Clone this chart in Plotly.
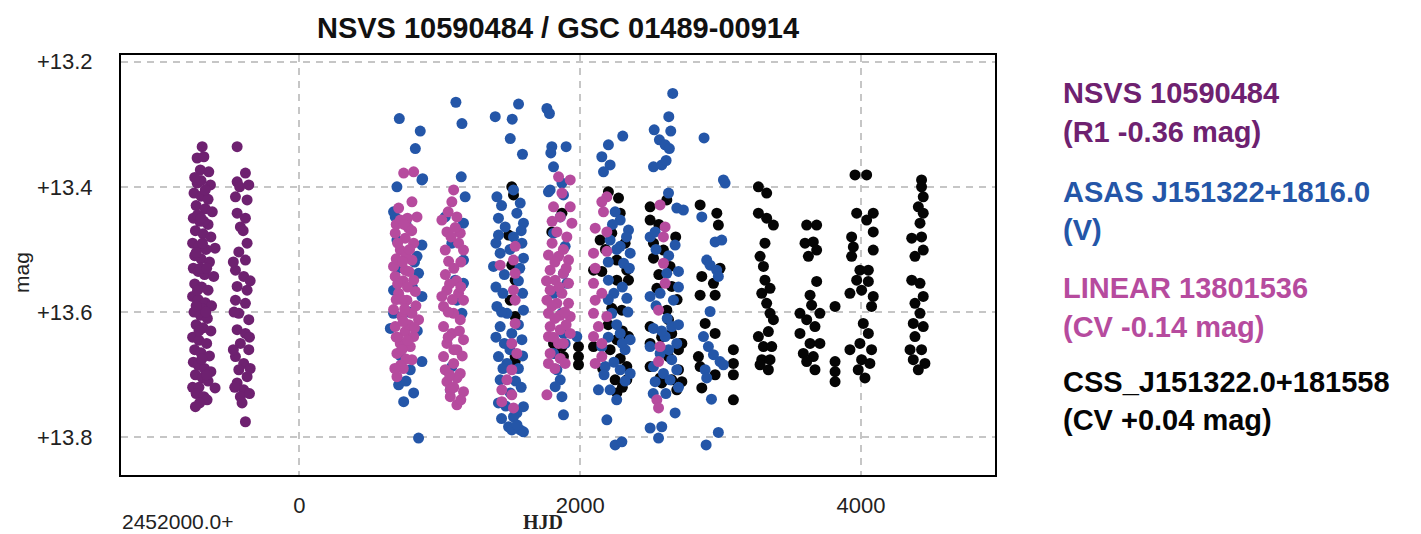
import plotly.graph_objects as go

TITLE = "NSVS 10590484 / GSC 01489-00914"
X_TICKS = [0, 2000, 4000]
X_TICK_TEXT = ["0", "2000", "4000"]
Y_TICKS = [13.2, 13.4, 13.6, 13.8]
Y_TICK_TEXT = ["+13.2", "+13.4", "+13.6", "+13.8"]
X_OFFSET_LABEL = "2452000.0+"

SERIES_NAMES = ["NSVS 10590484", "ASAS J151322+1816.0", "LINEAR 13801536", "CSS_J151322.0+181558"]
SERIES_NOTES = ["(R1 -0.36 mag)", "(V)", "(CV -0.14 mag)", "(CV +0.04 mag)"]
SERIES_COLORS = ["#6e2170", "#2456a8", "#b64b9e", "#050505"]

# (HJD - 2452000, mag)
NSVS = [
    (-692, 13.336), (-728, 13.354), (-680, 13.352), (-705, 13.373), (-645, 13.376), (-728, 13.394), (-633, 13.397),
    (-750, 13.41), (-700, 13.415), (-650, 13.42), (-735, 13.43), (-670, 13.435), (-620, 13.44), (-755, 13.45),
    (-710, 13.455), (-650, 13.46), (-740, 13.47), (-685, 13.475), (-630, 13.48), (-760, 13.49), (-715, 13.495),
    (-600, 13.498), (-665, 13.50), (-745, 13.51), (-700, 13.515), (-640, 13.52), (-755, 13.53), (-720, 13.535),
    (-675, 13.54), (-610, 13.543), (-745, 13.555), (-695, 13.56), (-650, 13.565), (-760, 13.575), (-720, 13.58),
    (-670, 13.585), (-625, 13.59), (-750, 13.60), (-705, 13.605), (-655, 13.61), (-735, 13.62), (-685, 13.625),
    (-630, 13.63), (-760, 13.64), (-715, 13.645), (-660, 13.65), (-745, 13.66), (-700, 13.665), (-640, 13.67),
    (-755, 13.68), (-720, 13.685), (-675, 13.69), (-630, 13.695), (-740, 13.70), (-690, 13.705), (-650, 13.71),
    (-760, 13.72), (-715, 13.72), (-600, 13.721), (-735, 13.73), (-680, 13.735), (-657, 13.740), (-740, 13.751),
    (-710, 13.745), (-725, 13.445), (-690, 13.49), (-725, 13.565), (-690, 13.595), (-715, 13.63), (-695, 13.675),
    (-705, 13.53), (-735, 13.59), (-680, 13.455), (-735, 13.505), (-700, 13.39), (-670, 13.405), (-745, 13.385),
    (-660, 13.53), (-665, 13.60), (-660, 13.70), (-700, 13.45),
    (-443, 13.336), (-384, 13.378), (-443, 13.392), (-360, 13.397), (-455, 13.416), (-372, 13.421), (-443, 13.442),
    (-384, 13.450), (-420, 13.464), (-372, 13.490), (-431, 13.504), (-384, 13.517), (-455, 13.533), (-396, 13.543),
    (-443, 13.559), (-372, 13.565), (-455, 13.581), (-384, 13.586), (-431, 13.602), (-360, 13.612), (-443, 13.628),
    (-384, 13.634), (-420, 13.650), (-360, 13.660), (-455, 13.671), (-396, 13.682), (-431, 13.692), (-372, 13.703),
    (-443, 13.713), (-396, 13.724), (-420, 13.735), (-408, 13.745), (-384, 13.775), (-470, 13.52), (-350, 13.55),
    (-465, 13.60), (-355, 13.64), (-470, 13.66), (-350, 13.69), (-460, 13.72), (-355, 13.73), (-400, 13.47),
    (-425, 13.40),
]

ASAS = [
    (712, 13.291), (861, 13.311), (826, 13.339), (1115, 13.265), (1158, 13.299), (1153, 13.384), (1395, 13.288),
    (1516, 13.292), (1561, 13.268), (1502, 13.323), (1589, 13.348), (1763, 13.275), (1781, 13.283), (1798, 13.336),
    (1791, 13.346), (1810, 13.368), (1900, 13.336), (1786, 13.405), (1870, 13.394), (2201, 13.333), (2154, 13.352),
    (2213, 13.365), (2166, 13.376), (2303, 13.319), (2527, 13.309), (2564, 13.325), (2605, 13.333), (2635, 13.339),
    (2659, 13.251), (2631, 13.288), (2645, 13.311), (2522, 13.368), (2581, 13.365), (2612, 13.358), (2629, 13.410),
    (2882, 13.322), (3020, 13.389), (3032, 13.394), (2866, 13.448), (2961, 13.488), (3008, 13.485), (2901, 13.517),
    (2925, 13.525), (2972, 13.533), (2984, 13.543), (2925, 13.599), (2878, 13.639), (2913, 13.655), (2949, 13.668),
    (2996, 13.679), (3020, 13.684), (2890, 13.692), (2901, 13.705), (2935, 13.739), (2984, 13.792), (2897, 13.812),
    (878, 13.387), (695, 13.400), (683, 13.448), (695, 13.485), (873, 13.493), (671, 13.565), (671, 13.602),
    (873, 13.575), (873, 13.679), (790, 13.692), (707, 13.716), (814, 13.729), (743, 13.743), (849, 13.801),
    (838, 13.511), (849, 13.538), (648, 13.626), (671, 13.440), (873, 13.389), (760, 13.46), (820, 13.52),
    (700, 13.53), (780, 13.60), (840, 13.63), (720, 13.67), (760, 13.71), (805, 13.56),
    (1181, 13.416), (1039, 13.448), (1169, 13.458), (1086, 13.490), (1169, 13.517), (1110, 13.549), (1169, 13.554),
    (1122, 13.581), (1158, 13.602), (1086, 13.687), (1075, 13.724),
    (1407, 13.416), (1525, 13.405), (1573, 13.426), (1418, 13.450), (1549, 13.442), (1466, 13.464), (1596, 13.458),
    (1418, 13.477), (1525, 13.480), (1585, 13.490), (1430, 13.506), (1596, 13.514), (1383, 13.527), (1407, 13.591),
    (1478, 13.602), (1596, 13.597), (1430, 13.623), (1513, 13.634), (1585, 13.644), (1418, 13.671), (1478, 13.682),
    (1430, 13.708), (1502, 13.729), (1418, 13.745), (1549, 13.761), (1490, 13.783), (1573, 13.788), (1525, 13.767),
    (1596, 13.751), (1513, 13.788), (1596, 13.791), (1460, 13.54), (1560, 13.55), (1450, 13.57), (1560, 13.69),
    (1460, 13.65), (1540, 13.71), (1440, 13.43), (1580, 13.47), (1400, 13.49), (1500, 13.50), (1570, 13.53),
    (1400, 13.56), (1590, 13.57), (1440, 13.60), (1560, 13.62), (1400, 13.64), (1500, 13.66), (1590, 13.67),
    (1450, 13.69), (1580, 13.72), (1470, 13.75), (1440, 13.77), (1550, 13.78),
    (1774, 13.408), (1881, 13.413), (1858, 13.448), (1810, 13.474), (1893, 13.495), (1881, 13.538), (1905, 13.554),
    (1810, 13.570), (1870, 13.602), (1881, 13.634), (1893, 13.650), (1810, 13.666), (1834, 13.692), (1858, 13.708),
    (1822, 13.719), (1870, 13.735), (1881, 13.764), (1976, 13.639),
    (2249, 13.440), (2285, 13.453), (2344, 13.469), (2213, 13.485), (2285, 13.495), (2356, 13.506), (2309, 13.522),
    (2201, 13.549), (2332, 13.578), (2225, 13.602), (2285, 13.634), (2356, 13.644), (2154, 13.655), (2320, 13.660),
    (2178, 13.687), (2285, 13.692), (2356, 13.698), (2130, 13.724), (2213, 13.724), (2190, 13.772), (2249, 13.812),
    (2297, 13.807), (2230, 13.46), (2330, 13.48), (2260, 13.50), (2200, 13.52), (2350, 13.53), (2240, 13.57),
    (2300, 13.56), (2200, 13.58), (2340, 13.60), (2260, 13.62), (2200, 13.64), (2300, 13.65), (2240, 13.68),
    (2170, 13.70), (2320, 13.71), (2260, 13.74),
    (2688, 13.434), (2735, 13.437), (2676, 13.493), (2498, 13.480), (2534, 13.472), (2700, 13.535), (2617, 13.538),
    (2498, 13.575), (2569, 13.570), (2664, 13.581), (2652, 13.623), (2522, 13.626), (2605, 13.639), (2688, 13.650),
    (2498, 13.655), (2569, 13.666), (2652, 13.676), (2688, 13.692), (2522, 13.687), (2593, 13.698), (2640, 13.708),
    (2534, 13.711), (2676, 13.761), (2498, 13.785), (2581, 13.783), (2558, 13.801), (2540, 13.50), (2630, 13.51),
    (2700, 13.56), (2540, 13.59), (2620, 13.61), (2700, 13.62), (2580, 13.63), (2630, 13.66), (2700, 13.72),
    (2520, 13.73), (2610, 13.73),
]

LINEAR = [
    (743, 13.378), (814, 13.376), (802, 13.424), (707, 13.434), (719, 13.453), (778, 13.466), (838, 13.448),
    (683, 13.474), (754, 13.482), (814, 13.490), (719, 13.501), (671, 13.527), (754, 13.533), (802, 13.517),
    (814, 13.549), (683, 13.543), (707, 13.570), (766, 13.581), (826, 13.567), (671, 13.596), (731, 13.607),
    (802, 13.602), (849, 13.612), (683, 13.623), (754, 13.631), (814, 13.639), (719, 13.650), (790, 13.655),
    (695, 13.666), (802, 13.676), (695, 13.703), (740, 13.55), (780, 13.62), (730, 13.58), (760, 13.51),
    (700, 13.64), (770, 13.45), (740, 13.69), (830, 13.59), (690, 13.46), (745, 13.46), (800, 13.47),
    (700, 13.49), (785, 13.50), (690, 13.515), (735, 13.52), (780, 13.535), (700, 13.555), (770, 13.56),
    (690, 13.58), (750, 13.595), (820, 13.625), (740, 13.615), (690, 13.64), (770, 13.645), (730, 13.66),
    (760, 13.675), (720, 13.685), (680, 13.69),
    (1099, 13.405), (1086, 13.424), (1015, 13.453), (1122, 13.448), (1146, 13.474), (1051, 13.472), (1134, 13.490),
    (1169, 13.501), (1063, 13.519), (1039, 13.501), (1051, 13.565), (1134, 13.570), (1027, 13.591), (1169, 13.581),
    (1099, 13.602), (1027, 13.623), (1146, 13.612), (1086, 13.634), (1169, 13.644), (1051, 13.650), (1122, 13.660),
    (1027, 13.671), (1099, 13.682), (1039, 13.692), (1146, 13.698), (1051, 13.711), (1122, 13.705), (1075, 13.724),
    (1169, 13.727), (1122, 13.748), (1075, 13.735), (1015, 13.575), (1060, 13.44), (1110, 13.465), (1080, 13.48),
    (1150, 13.52), (1100, 13.53), (1040, 13.54), (1120, 13.55), (1070, 13.555), (1150, 13.56), (1090, 13.58),
    (1060, 13.60), (1140, 13.63), (1060, 13.64), (1100, 13.66), (1160, 13.67), (1070, 13.70), (1100, 13.72),
    (1150, 13.74),
    (1537, 13.495), (1525, 13.517), (1430, 13.525), (1537, 13.538), (1525, 13.565), (1537, 13.581), (1537, 13.618),
    (1513, 13.650), (1549, 13.666), (1513, 13.692), (1478, 13.708), (1442, 13.724), (1513, 13.732), (1442, 13.743),
    (1525, 13.753),
    (1846, 13.384), (1929, 13.389), (1810, 13.432), (1929, 13.432), (1858, 13.448), (1941, 13.458), (1834, 13.472),
    (1905, 13.480), (1774, 13.509), (1846, 13.511), (1917, 13.517), (1786, 13.533), (1881, 13.538), (1822, 13.549),
    (1917, 13.554), (1786, 13.565), (1870, 13.570), (1763, 13.581), (1834, 13.586), (1917, 13.586), (1774, 13.602),
    (1858, 13.605), (1929, 13.607), (1786, 13.623), (1858, 13.628), (1929, 13.634), (1774, 13.639), (1846, 13.650),
    (1786, 13.666), (1858, 13.674), (1774, 13.682), (1893, 13.682), (1763, 13.732), (1800, 13.49), (1880, 13.50),
    (1820, 13.52), (1900, 13.53), (1760, 13.55), (1850, 13.56), (1800, 13.59), (1890, 13.60), (1820, 13.61),
    (1900, 13.62), (1810, 13.64), (1880, 13.65), (1820, 13.69), (1870, 13.41), (1800, 13.455),
    (2190, 13.416), (2154, 13.424), (2166, 13.440), (2107, 13.466), (2190, 13.472), (2095, 13.506), (2190, 13.503),
    (2107, 13.530), (2095, 13.554), (2154, 13.570), (2107, 13.581), (2095, 13.602), (2190, 13.607), (2130, 13.623),
    (2095, 13.639), (2154, 13.650), (2107, 13.682), (2154, 13.671),
    (2569, 13.429), (2605, 13.464), (2593, 13.480), (2593, 13.522), (2605, 13.554), (2558, 13.597), (2569, 13.655),
    (2558, 13.679), (2546, 13.740), (2558, 13.753),
]

CSS = [
    (1513, 13.400), (1525, 13.413), (1490, 13.477), (1513, 13.525), (1537, 13.549), (1502, 13.581), (1537, 13.607),
    (1537, 13.671), (1537, 13.679),
    (1870, 13.442), (1798, 13.472), (1810, 13.650), (1870, 13.655), (1822, 13.666), (1881, 13.671), (1988, 13.655),
    (1988, 13.671), (1988, 13.684),
    (2201, 13.408), (2273, 13.418), (2285, 13.442), (2142, 13.485), (2225, 13.474), (2261, 13.517), (2095, 13.533),
    (2154, 13.535), (2332, 13.533), (2261, 13.549), (2344, 13.549), (2225, 13.594), (2297, 13.597), (2261, 13.644),
    (2344, 13.639), (2095, 13.655), (2213, 13.660), (2285, 13.674), (2332, 13.687), (2249, 13.708), (2332, 13.708),
    (2261, 13.729), (2180, 13.50), (2320, 13.49), (2200, 13.62), (2300, 13.63), (2160, 13.69), (2300, 13.72),
    (2498, 13.432), (2617, 13.421), (2498, 13.453), (2522, 13.490), (2593, 13.501), (2522, 13.514), (2640, 13.527),
    (2652, 13.559), (2546, 13.562), (2617, 13.597), (2498, 13.623), (2629, 13.612), (2652, 13.634), (2498, 13.650),
    (2711, 13.650), (2629, 13.671), (2498, 13.687), (2700, 13.692), (2652, 13.708), (2724, 13.711), (2581, 13.713),
    (2688, 13.724), (2569, 13.705), (2724, 13.650), (2560, 13.46), (2680, 13.48), (2560, 13.54), (2690, 13.58),
    (2580, 13.64), (2700, 13.66),
    (2854, 13.429), (2973, 13.442), (2984, 13.461), (2866, 13.543), (2854, 13.573), (2949, 13.554), (2961, 13.573),
    (2996, 13.530), (2890, 13.618), (2961, 13.634), (2842, 13.671), (2854, 13.687), (3091, 13.660), (3091, 13.682),
    (3091, 13.700), (2961, 13.700), (2866, 13.721), (3091, 13.740),
    (3269, 13.400), (3328, 13.410), (3269, 13.442), (3328, 13.450), (3376, 13.461), (3316, 13.490), (3281, 13.511),
    (3305, 13.527), (3316, 13.549), (3293, 13.570), (3352, 13.562), (3328, 13.586), (3352, 13.602), (3376, 13.612),
    (3340, 13.631), (3269, 13.639), (3305, 13.655), (3364, 13.655), (3293, 13.676), (3352, 13.676), (3281, 13.684),
    (3340, 13.692),
    (3613, 13.461), (3684, 13.461), (3601, 13.490), (3660, 13.488), (3684, 13.501), (3625, 13.511), (3684, 13.551),
    (3637, 13.573), (3648, 13.589), (3565, 13.602), (3707, 13.602), (3613, 13.612), (3672, 13.623), (3565, 13.634),
    (3637, 13.650), (3707, 13.650), (3589, 13.666), (3660, 13.671), (3613, 13.679), (3672, 13.692), (3815, 13.591),
    (3815, 13.679), (3815, 13.695), (3815, 13.711),
    (3957, 13.381), (4040, 13.381), (3969, 13.442), (4087, 13.442), (4040, 13.453), (3933, 13.480), (3945, 13.496),
    (4087, 13.472), (4087, 13.501), (3933, 13.511), (3992, 13.533), (4052, 13.533), (3969, 13.549), (4052, 13.551),
    (3921, 13.570), (4004, 13.565), (4087, 13.575), (4075, 13.591), (4016, 13.618), (4052, 13.634), (3921, 13.660),
    (3992, 13.650), (4075, 13.660), (4004, 13.676), (4063, 13.682), (3980, 13.692), (4028, 13.705),
    (4431, 13.389), (4431, 13.400), (4443, 13.416), (4408, 13.432), (4443, 13.442), (4420, 13.458), (4361, 13.482),
    (4431, 13.480), (4443, 13.501), (4384, 13.511), (4361, 13.549), (4420, 13.554), (4443, 13.575), (4384, 13.586),
    (4420, 13.602), (4372, 13.618), (4443, 13.623), (4384, 13.639), (4349, 13.660), (4431, 13.660), (4372, 13.676),
    (4455, 13.682), (4408, 13.692),
]

# Page has an 8px body margin; the figure is drawn at (8, 8) in the window.
OFF = 8
W, H = 1421 - OFF, 534 - OFF
L, R, T, B = 121 - OFF, 995 - OFF, 55 - OFF, 475 - OFF

fig = go.Figure()

draw_order = [(NSVS, 0), (CSS, 3), (ASAS, 1), (LINEAR, 2)]
for pts, idx in draw_order:
    xs = [p[0] for p in pts]
    ys = [p[1] for p in pts]
    fig.add_trace(go.Scatter(
        x=xs, y=ys, mode="markers", name=SERIES_NAMES[idx],
        marker=dict(size=11, color=SERIES_COLORS[idx], line=dict(width=0)),
        showlegend=False, hoverinfo="skip",
    ))


def px_x(px):
    return (px - OFF - L) / (R - L)


def px_y(py):
    return (B - (py - OFF)) / (B - T)


annotations = []
legend_y = [(93, 132), (192, 230), (288, 327), (382, 420)]
for i in range(4):
    for text, py in zip([SERIES_NAMES[i], SERIES_NOTES[i]], legend_y[i]):
        annotations.append(dict(
            text=text, xref="paper", yref="paper", x=px_x(1061), y=px_y(py),
            xanchor="left", yanchor="middle", showarrow=False,
            font=dict(family="Liberation Sans, Arial, sans-serif", size=29, color=SERIES_COLORS[i], weight="bold"),
        ))

annotations.append(dict(
    text=X_OFFSET_LABEL, xref="paper", yref="paper", x=px_x(120), y=px_y(521),
    xanchor="left", yanchor="middle", showarrow=False,
    font=dict(family="Liberation Sans, Arial, sans-serif", size=21, color="#222222"),
))
annotations.append(dict(
    text="HJD", xref="paper", yref="paper", x=px_x(543), y=px_y(522),
    xanchor="center", yanchor="middle", showarrow=False,
    font=dict(family="Liberation Serif, DejaVu Serif, serif", size=20, color="#222222", weight="bold"),
))
annotations.append(dict(
    text="mag", xref="paper", yref="paper", x=px_x(21), y=px_y(273),
    xanchor="center", yanchor="middle", showarrow=False, textangle=-90,
    font=dict(family="Liberation Sans, Arial, sans-serif", size=21, color="#222222"),
))

grid = dict(showgrid=True, gridcolor="#c6c6c6", gridwidth=1.5, griddash="7px,6px")

fig.update_layout(
    width=W, height=H,
    margin=dict(l=L, r=W - R, t=T, b=H - B, pad=0),
    paper_bgcolor="white", plot_bgcolor="white",
    title=dict(
        text=TITLE, x=0.5, xref="paper", y=1 - (28 - OFF) / H, yref="container",
        xanchor="center", yanchor="middle",
        font=dict(family="Liberation Sans, Arial, sans-serif", size=29, color="#111111", weight="bold"),
    ),
    xaxis=dict(
        range=[-1270, 4954], tickvals=X_TICKS, ticktext=X_TICK_TEXT,
        showline=True, linecolor="black", linewidth=2, mirror=True,
        zeroline=False, ticks="", ticklabelstandoff=10,
        tickfont=dict(family="Liberation Sans, Arial, sans-serif", size=22, color="#222222"),
        **grid,
    ),
    yaxis=dict(
        range=[13.860, 13.1896], tickvals=Y_TICKS, ticktext=Y_TICK_TEXT,
        showline=True, linecolor="black", linewidth=2, mirror=True,
        zeroline=False, ticks="", ticklabelstandoff=22,
        tickfont=dict(family="Liberation Sans, Arial, sans-serif", size=22, color="#222222"),
        **grid,
    ),
    annotations=annotations,
    showlegend=False,
)

fig.write_html("out.html")
